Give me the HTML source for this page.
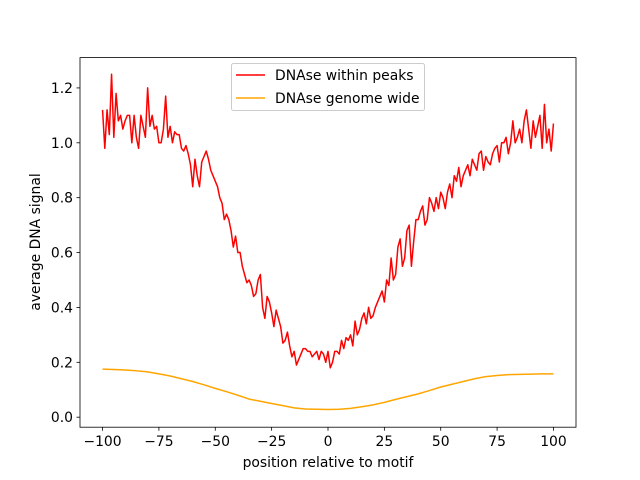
<!DOCTYPE html>
<html><head><meta charset="utf-8"><style>
body{margin:0;background:#fff}
svg{display:block;font-family:"DejaVu Sans","Liberation Sans",sans-serif}
</style></head><body>
<svg id="chart" width="640" height="480">
<rect width="640" height="480" fill="#fff"/>
<g id="plot"></g>
</svg>
<script>
const redPos = [];
for (let p = -100; p <= 100; p += 1) redPos.push(p);
const redVals = [1.12,0.98,1.12,1.03,1.25,1.02,1.18,1.08,1.10,1.05,1.08,1.10,1.10,1.00,1.10,1.02,0.98,1.10,1.06,1.02,1.20,1.06,1.10,1.05,1.06,1.00,1.00,1.05,1.17,1.02,1.06,1.00,1.04,1.03,1.03,0.98,0.97,0.99,0.96,0.92,0.84,0.94,0.88,0.84,0.93,0.95,0.97,0.94,0.90,0.88,0.86,0.84,0.80,0.78,0.72,0.74,0.72,0.68,0.62,0.66,0.60,0.60,0.55,0.52,0.49,0.50,0.48,0.44,0.45,0.50,0.52,0.40,0.36,0.44,0.42,0.38,0.33,0.39,0.36,0.33,0.27,0.28,0.31,0.26,0.22,0.24,0.19,0.21,0.23,0.25,0.25,0.24,0.24,0.22,0.23,0.24,0.21,0.24,0.23,0.20,0.24,0.18,0.20,0.24,0.24,0.23,0.28,0.25,0.29,0.28,0.30,0.26,0.35,0.30,0.32,0.36,0.38,0.34,0.40,0.36,0.37,0.40,0.42,0.44,0.46,0.42,0.50,0.48,0.58,0.50,0.52,0.62,0.65,0.55,0.58,0.68,0.70,0.55,0.64,0.72,0.72,0.75,0.77,0.70,0.72,0.80,0.78,0.75,0.80,0.76,0.82,0.80,0.76,0.82,0.85,0.80,0.88,0.86,0.91,0.84,0.88,0.90,0.92,0.88,0.94,0.92,0.90,0.96,0.97,0.90,0.95,0.93,0.92,0.96,0.98,0.99,0.93,1.00,1.00,1.02,0.96,1.00,1.08,1.00,1.02,1.05,1.00,1.08,1.12,1.05,0.98,1.08,1.02,1.06,1.10,0.98,1.14,1.00,1.05,0.97,1.07,0.96];
const orangePos = [-100,-95,-90,-85,-80,-75,-70,-65,-60,-55,-50,-45,-40,-35,-30,-25,-20,-15,-10,-5,0,5,10,15,20,25,30,35,40,45,50,55,60,65,70,75,80,85,90,95,100];
const orangeVals = [0.175,0.174,0.172,0.169,0.165,0.158,0.150,0.140,0.130,0.118,0.105,0.093,0.080,0.066,0.058,0.050,0.042,0.034,0.030,0.029,0.028,0.029,0.032,0.038,0.045,0.054,0.065,0.075,0.085,0.097,0.110,0.120,0.130,0.140,0.148,0.152,0.155,0.156,0.157,0.158,0.158];
const xTicks = [-100,-75,-50,-25,0,25,50,75,100];
const yTicks = [0.0,0.2,0.4,0.6,0.8,1.0,1.2];

const L=80,R=576,T=57.6,B=427.2;
const xmin=-110,xmax=110,ymin=-0.0365,ymax=1.3105;
const X=v=>L+(v-xmin)/(xmax-xmin)*(R-L);
const Y=v=>B-(v-ymin)/(ymax-ymin)*(B-T);
const NS="http://www.w3.org/2000/svg";
const g=document.getElementById('plot');
function mk(tag,attrs){const e=document.createElementNS(NS,tag);for(const k in attrs)e.setAttribute(k,attrs[k]);g.appendChild(e);return e;}

function line(xs,ys,color,name){
  const n=Math.min(xs.length,ys.length);
  const pts=[];for(let i=0;i<n;i++)pts.push(X(xs[i]).toFixed(2)+','+Y(ys[i]).toFixed(2));
  const e=mk('polyline',{points:pts.join(' '),fill:'none',stroke:color,'stroke-width':1.5,'stroke-linejoin':'round'});
  
  
}
line(orangePos,orangeVals,'#ffa500','series-genome-wide');
line(redPos,redVals,'#ff0000','series-within-peaks');

const frame=mk('rect',{x:L,y:T,width:R-L,height:B-T,fill:'none',stroke:'#000','stroke-width':0.8});



const FS=13.9;
xTicks.forEach(t=>{
  const tk=mk('line',{x1:X(t),x2:X(t),y1:B,y2:B+3.5,stroke:'#000','stroke-width':0.8});
  
  
  const lb=mk('text',{x:X(t),y:B+19,'text-anchor':'middle','font-size':FS,fill:'#000'});
  lb.textContent=t===0?'0':(t<0?'\u2212'+(-t):t);
  
  
});
yTicks.forEach(t=>{
  const tk=mk('line',{x1:L-3.5,x2:L,y1:Y(t),y2:Y(t),stroke:'#000','stroke-width':0.8});
  
  
  const lb=mk('text',{x:L-7,y:Y(t)+5,'text-anchor':'end','font-size':FS,fill:'#000'});
  lb.textContent=t.toFixed(1);
  
  
});
const xt=mk('text',{x:(L+R)/2,y:467,'text-anchor':'middle','font-size':FS});
xt.textContent='position relative to motif';


const yt=mk('text',{x:0,y:0,'text-anchor':'middle','font-size':FS,transform:'translate(40,242) rotate(-90)'});
yt.textContent='average DNA signal';



const lg=mk('rect',{x:231.5,y:63.5,width:193,height:47,rx:2,fill:'#fff','fill-opacity':0.8,stroke:'#ccc','stroke-width':1});


[['DNAse within peaks','#ff0000',75],['DNAse genome wide','#ffa500',98]].forEach(([t,c,y])=>{
  const ln=mk('line',{x1:236,x2:265,y1:y,y2:y,stroke:c,'stroke-width':1.5});
  
  
  const tx=mk('text',{x:275,y:y+5,'font-size':FS});
  tx.textContent=t;
  
  
});
</script>
</body></html>
